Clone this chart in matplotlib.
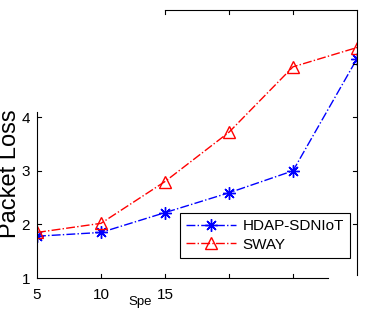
import numpy as np
import matplotlib
matplotlib.use('Agg')
import matplotlib.pyplot as plt

plt.rcParams['font.family'] = ['Liberation Sans', 'DejaVu Sans']

speed = [5, 10, 15, 20, 25, 30]
hdap = [1.78, 1.85, 2.22, 2.59, 3.0, 5.09]     # HDAP-SDNIoT
sway = [1.85, 2.02, 2.80, 3.72, 4.94, 5.30]    # SWAY

xticks = [5, 10, 15, 20, 25, 30]
xticklabels = ['5', '10', '15', '', '', '']
yticks = [1, 2, 3, 4, 5, 6]
yticklabels = ['1', '2', '3', '4', '', '']

fig = plt.figure(figsize=(3.75, 3.1), dpi=100)
ax = fig.add_axes([0.0987, 0.1032, 0.8533, 0.8645])

ax.plot(speed, hdap, color='b', ls='-.', lw=1.0, marker=(8, 2, 0),
        ms=9, mew=1.0, label='HDAP-SDNIoT')
ax.plot(speed, sway, color='r', ls='-.', lw=1.0, marker='^', ms=9,
        mfc='none', mec='r', mew=1.0, label='SWAY')

ax.set_xlim(5, 30)
ax.set_ylim(1, 6)
ax.set_xticks(xticks)
ax.set_xticklabels(xticklabels)
ax.set_yticks(yticks)
ax.set_yticklabels(yticklabels)
ax.tick_params(length=0, labelsize=11)
ax.tick_params(axis='x', pad=7.5)
ax.tick_params(axis='y', pad=5)

for s in ax.spines.values():
    s.set_visible(False)

# broken box, as in the original picture
k = dict(color='k', lw=0.8, clip_on=False, transform=ax.transAxes)
ax.plot([0, 0], [0, 0.62], **k)
ax.plot([0, 0.91], [0, 0], **k)
ax.plot([0.4, 1], [1, 1], **k)
ax.plot([1, 1], [0.011, 1], **k)

# inward tick marks only where the box is drawn
tl_x = 4 / 320.0
tl_y = 4 / 268.0
ty = ax.get_yaxis_transform()
tx = ax.get_xaxis_transform()
for v in [2, 3, 4]:
    ax.plot([0, tl_x], [v, v], color='k', lw=0.8, transform=ty)
for v in [2, 3, 4, 5]:
    ax.plot([1 - tl_x, 1], [v, v], color='k', lw=0.8, transform=ty)
for v in [10, 15, 20, 25]:
    ax.plot([v, v], [0, tl_y], color='k', lw=0.8, transform=tx)
for v in [15, 20, 25]:
    ax.plot([v, v], [1 - tl_y, 1], color='k', lw=0.8, transform=tx)

leg = ax.legend(loc='lower right', bbox_to_anchor=(0.978, 0.075),
                borderaxespad=0, fontsize=11, handlelength=3.3,
                handletextpad=0.4, labelspacing=0.3, borderpad=0.4,
                fancybox=False, framealpha=1, edgecolor='k')
leg.get_frame().set_linewidth(0.8)

fig.text(21 / 375.0, 1 - 174 / 310.0, 'Packet Loss', rotation=90,
         ha='right', va='center', fontsize=17)
fig.text(128 / 375.0, 1 - 296.5 / 310.0, 'Spe', ha='left', va='top',
         fontsize=9.5)

fig.savefig('out.png', dpi=100)
